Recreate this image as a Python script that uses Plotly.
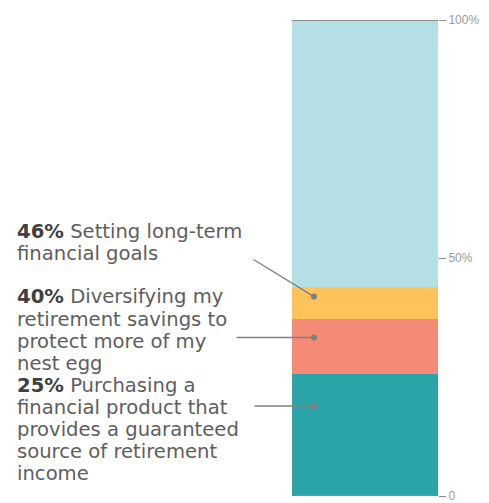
import plotly.graph_objects as go

# ---- data ----
segments = ["Guaranteed income product", "Diversifying savings", "Long-term goals", "Rest"]
segment_values = [25.6, 11.5, 6.9, 56.0]
segment_colors = ["#2BA4A9", "#F58B76", "#FEC35B", "#B4E0E5"]

label_pcts = ["46%", "40%", "25%"]
label_lines = [
    ["Setting long-term", "financial goals"],
    ["Diversifying my", "retirement savings to", "protect more of my", "nest egg"],
    ["Purchasing a", "financial product that", "provides a guaranteed", "source of retirement", "income"],
]
# points on the bar the leader lines reach (value on axis)
leader_targets = [41.9, 33.3, 18.9]

tick_vals = [0, 50, 100]
tick_text = ["0", "50%", "100%"]

W, H = 489, 503
L, R, T, B = 292, 51, 20, 7
pw = W - L - R
ph = H - T - B
LINE_H = 22


def px_x(x):
    return (x - L) / pw


def px_y(y):
    return (H - B - y) / ph


fig = go.Figure()
for name, v, c in zip(segments, segment_values, segment_colors):
    fig.add_trace(go.Bar(x=["all"], y=[v], name=name, marker=dict(color=c, line=dict(width=0)),
                         hoverinfo="skip", showlegend=False))

line_centers = [231, 297, 385]
for pct, lines, c0 in zip(label_pcts, label_lines, line_centers):
    for i, ln in enumerate(lines):
        txt = f"<b style='color:#404040'>{pct}</b> {ln}" if i == 0 else ln
        fig.add_annotation(
            x=px_x(16), y=px_y(c0 + i * LINE_H), xref="paper", yref="paper",
            xanchor="left", yanchor="middle", align="left", showarrow=False,
            text=txt, borderpad=0,
            font=dict(family="DejaVu Sans", size=19.6, color="#5E5E5E"),
        )

# leader lines with dots
tails = [(-62, -38), (-79, 0), (-61, 0)]
for yv, (ax, ay) in zip(leader_targets, tails):
    fig.add_annotation(
        x=px_x(314), y=yv, xref="paper", yref="y", text="", showarrow=True,
        ax=ax, ay=ay, arrowhead=6, arrowsize=1.1, arrowwidth=1.4, arrowcolor="#808080",
        standoff=0, startstandoff=0,
    )

# base & top rules
for yv in (0, 100):
    fig.add_shape(type="line", xref="paper", yref="y", x0=0, x1=1.0, y0=yv, y1=yv,
                  line=dict(color="#8C8C8C", width=2 if yv else 1.5), layer="above")

fig.update_layout(
    width=W, height=H, margin=dict(l=L, r=R, t=T, b=B),
    barmode="stack", bargap=0,
    plot_bgcolor="white", paper_bgcolor="white",
    xaxis=dict(visible=False, fixedrange=True),
    yaxis=dict(range=[0, 100], side="right", tickvals=tick_vals, ticktext=tick_text,
               ticks="outside", ticklen=7, tickcolor="#8C8C8C", tickwidth=1,
               ticklabeloverflow="allow", automargin=False,
               showgrid=False, zeroline=False, showline=False,
               tickfont=dict(family="Liberation Sans Narrow, Liberation Sans", size=12, color="#9A9A9A")),
)

fig.write_html("out.html")
